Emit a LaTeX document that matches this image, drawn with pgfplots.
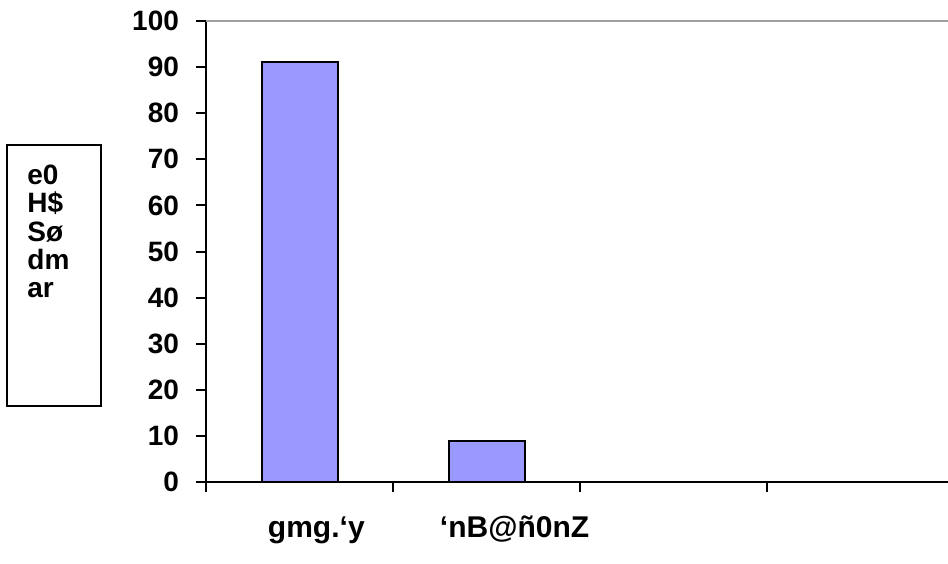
\documentclass[border=0pt]{standalone}
\usepackage{fontspec}
\setmainfont{Liberation Sans}
\usepackage{pgfplots}
\pgfplotsset{compat=1.18}
\definecolor{barfill}{RGB}{153,153,255}
\begin{document}
\begin{tikzpicture}
\path[use as bounding box] (0,0) rectangle (474pt,281.5pt);
\begin{axis}[
  at={(103pt,40.5pt)}, anchor=south west,
  scale only axis, width=374pt, height=230.5pt,
  xmin=0.5, xmax=4.5, ymin=0, ymax=100,
  axis x line*=bottom, axis y line*=left,
  axis line style={-, line width=1pt, black},
  ytick={0,10,...,100},
  tick align=outside, major tick length=5pt,
  tick style={black, line width=1pt},
  xtick={0.5,1.5,2.5,3.5,4.5}, xticklabels={},
  extra x ticks={1.09,2.15},
  extra x tick labels={gmg.‘y,‘nB@ñ0nZ},
  extra x tick style={major tick length=0pt,
    tick label style={font=\bfseries\fontsize{15}{15}\selectfont, anchor=base, yshift=-27.5pt}},
  /pgf/number format/assume math mode=true,
  yticklabel style={font=\bfseries\fontsize{14}{14}\selectfont, anchor=east, xshift=-5pt},
  ybar, bar width=38pt,
  clip=false,
]
\addplot[ybar, fill=barfill, draw=black, line width=1pt] coordinates {(1,91) (2,9) (3,0) (4,0)};
\draw[gray!75, line width=1pt] (rel axis cs:0,1) -- (rel axis cs:1,1);
\end{axis}
\draw[line width=1pt] (3.5pt,78.5pt) rectangle (50.5pt,209pt);
\begin{scope}[every node/.style={anchor=base west, inner sep=0pt, font=\bfseries\fontsize{14}{14}\selectfont}]
\node at (13.5pt,189pt) {e0};
\node at (13.5pt,175pt) {H\$};
\node at (13.5pt,160.5pt) {Sø};
\node at (13.5pt,146.5pt) {dm};
\node at (13.5pt,132.5pt) {ar};
\end{scope}
\end{tikzpicture}
\end{document}
